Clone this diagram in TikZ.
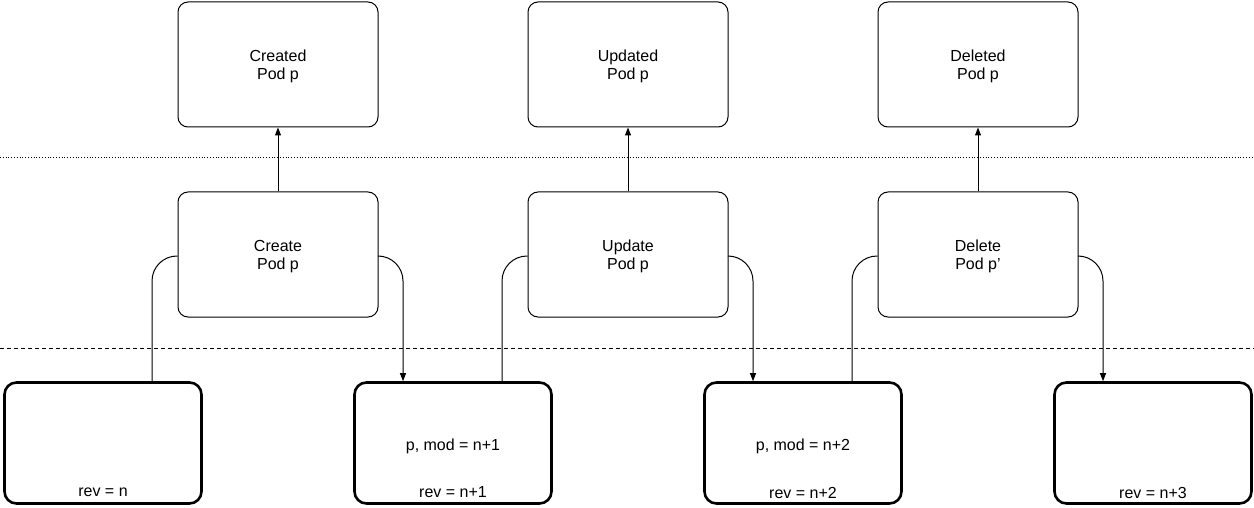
\documentclass[tikz,border=0pt]{standalone}
\usepackage{fontspec}
\setmainfont{Liberation Sans}
\usetikzlibrary{arrows.meta}
\begin{document}
\begin{tikzpicture}[x=1pt,y=-1pt,
  evbox/.style={draw, line width=1pt, rounded corners=10pt, minimum width=200pt, minimum height=125pt, align=center, font=\fontsize{16}{18.5}\selectfont},
  stbox/.style={draw, line width=2.6pt, rounded corners=12pt, minimum width=197pt, minimum height=121pt},
  lbl/.style={font=\fontsize{16}{18.5}\selectfont},
  conn/.style={line width=1pt, rounded corners=25pt},
  arr/.style={line width=1pt, -{Triangle[length=8pt,width=6pt]}}
]
\useasboundingbox (0,0) rectangle (1254,508);
% separators
\draw[line width=0.8pt, dotted] (0,157) -- (1254,157);
\draw[line width=0.8pt, dash pattern=on 4pt off 3pt] (0,348) -- (1254,348);
% top row
\node[evbox] (ced) at (278,64.5) {};
\node[evbox] (ued) at (628,64.5) {};
\node[evbox] (ded) at (978,64.5) {};
\node[lbl, align=center] (cedt) at (278,66.5) {Created\\Pod p};
\node[lbl, align=center] (uedt) at (628,66.5) {Updated\\Pod p};
\node[lbl, align=center] (dedt) at (978,66.5) {Deleted\\Pod p};
% middle row
\node[evbox] (cr) at (278,254.5) {};
\node[evbox] (up) at (628,254.5) {};
\node[evbox] (de) at (978,254.5) {};
\node[lbl, align=center] (crt) at (278,256.5) {Create\\Pod p};
\node[lbl, align=center] (upt) at (628,256.5) {Update\\Pod p};
\node[lbl, align=center] (det) at (978,256.5) {Delete\\Pod p’};
% bottom row
\node[stbox] (b1) at (103,443) {};
\node[stbox] (b2) at (453,443) {};
\node[stbox] (b3) at (803,443) {};
\node[stbox] (b4) at (1153,443) {};
\node[lbl] (b2m) at (453,446) {p, mod = n+1};
\node[lbl] (b3m) at (803,446) {p, mod = n+2};
\node[lbl] (b1r) at (103,492.5) {rev = n};
\node[lbl] (b2r) at (453,492.5) {rev = n+1};
\node[lbl] (b3r) at (803,492.5) {rev = n+2};
\node[lbl] (b4r) at (1153,492.5) {rev = n+3};
% vertical arrows
\draw[arr] (cr.north) -- (ced.south);
\draw[arr] (up.north) -- (ued.south);
\draw[arr] (de.north) -- (ded.south);
% curved connectors
\draw[conn] ([yshift=-1.5pt]cr.west) -| ([xshift=49pt]b1.north);
\draw[conn,arr] ([yshift=-1.5pt]cr.east) -| ([xshift=-50pt]b2.north);
\draw[conn] ([yshift=-1.5pt]up.west) -| ([xshift=49pt]b2.north);
\draw[conn,arr] ([yshift=-1.5pt]up.east) -| ([xshift=-50pt]b3.north);
\draw[conn] ([yshift=-1.5pt]de.west) -| ([xshift=49pt]b3.north);
\draw[conn,arr] ([yshift=-1.5pt]de.east) -| ([xshift=-50pt]b4.north);
\end{tikzpicture}
\end{document}
